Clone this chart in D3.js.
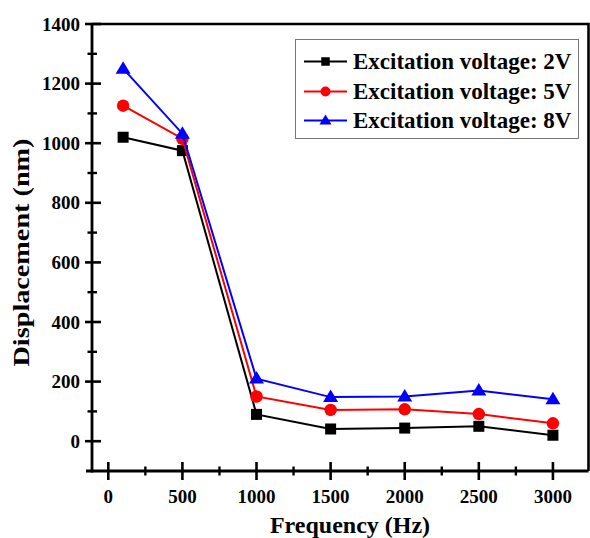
<!DOCTYPE html>
<html>
<head>
<meta charset="utf-8">
<script src="https://cdn.jsdelivr.net/npm/d3@7"></script>
<style>
  body { margin: 0; background: #fff; }
  svg { display: block; }
</style>
</head>
<body>
<svg></svg>
<script>
const width = 590;
const height = 538;
const margin = { left: 92, right: 1.5, top: 24, bottom: 67 };
const font = "'Liberation Serif', 'Times New Roman', Times, 'DejaVu Serif', serif";

// data
const frequencies = [100, 500, 1000, 1500, 2000, 2500, 3000];
const volt2 = [1020, 975, 90, 41, 44, 50, 20];
const volt5 = [1126, 1015, 150, 105, 107, 91, 60];
const volt8 = [1250, 1032, 210, 148, 150, 170, 141];
const seriesNames = ["Excitation voltage: 2V", "Excitation voltage: 5V", "Excitation voltage: 8V"];
const xTicks = [0, 500, 1000, 1500, 2000, 2500, 3000];
const yTicks = [0, 200, 400, 600, 800, 1000, 1200, 1400];

const series = [
  { name: seriesNames[0], values: volt2, color: "#000000", shape: "square" },
  { name: seriesNames[1], values: volt5, color: "#ff0000", shape: "circle" },
  { name: seriesNames[2], values: volt8, color: "#0000ff", shape: "triangle" },
];

const svg = d3.select("svg").attr("width", width).attr("height", height);

const x = d3.scaleLinear().domain([-110, 3240]).range([margin.left, width - margin.right]);
const y = d3.scaleLinear().domain([-100, 1400]).range([height - margin.bottom, margin.top]);

const x0 = margin.left, x1 = width - margin.right;
const y0 = height - margin.bottom, y1 = margin.top;

function label(sel, size) {
  return sel.attr("font-family", font)
    .attr("font-weight", "bold")
    .attr("font-size", size)
    .attr("fill", "#000");
}

// frame (top + right)
svg.append("path")
  .attr("d", `M${x0},${y1}H${x1}V${y0}`)
  .attr("fill", "none")
  .attr("stroke", "#000")
  .attr("stroke-width", 2.6);

// x axis
const xAxis = svg.append("g");
xAxis.append("line")
  .attr("x1", x0 - 6).attr("x2", x1)
  .attr("y1", y0).attr("y2", y0)
  .attr("stroke", "#000").attr("stroke-width", 2.8);
xAxis.selectAll(".major").data(xTicks).join("line")
  .attr("x1", d => x(d)).attr("x2", d => x(d))
  .attr("y1", y0 - 9).attr("y2", y0 + 9)
  .attr("stroke", "#000").attr("stroke-width", 2.6);
xAxis.selectAll(".minor").data(d3.range(250, 3250, 500)).join("line")
  .attr("x1", d => x(d)).attr("x2", d => x(d))
  .attr("y1", y0 - 4.5).attr("y2", y0 + 4.5)
  .attr("stroke", "#000").attr("stroke-width", 2.4);
xAxis.selectAll("text").data(xTicks).join("text")
  .attr("x", d => x(d))
  .attr("y", 503)
  .attr("text-anchor", "middle")
  .call(label, 19)
  .text(d => d);

// y axis
const yAxis = svg.append("g");
yAxis.append("line")
  .attr("x1", x0).attr("x2", x0)
  .attr("y1", y1).attr("y2", y0 + 1.4)
  .attr("stroke", "#000").attr("stroke-width", 2.8);
yAxis.selectAll(".major").data(yTicks).join("line")
  .attr("x1", x0 - 7).attr("x2", x0 + 9)
  .attr("y1", d => y(d)).attr("y2", d => y(d))
  .attr("stroke", "#000").attr("stroke-width", 2.6);
yAxis.selectAll(".minor").data(d3.range(100, 1400, 200)).join("line")
  .attr("x1", x0 - 4.5).attr("x2", x0 + 5)
  .attr("y1", d => y(d)).attr("y2", d => y(d))
  .attr("stroke", "#000").attr("stroke-width", 2.4);
yAxis.selectAll("text").data(yTicks).join("text")
  .attr("x", 80)
  .attr("y", d => y(d) + 6.5)
  .attr("text-anchor", "end")
  .call(label, 19)
  .text(d => d);

// axis titles
svg.append("text")
  .attr("x", 350)
  .attr("y", 533)
  .attr("text-anchor", "middle")
  .call(label, 24)
  .text("Frequency (Hz)");
svg.append("text")
  .attr("transform", `translate(29,252.5) rotate(-90)`)
  .attr("text-anchor", "middle")
  .attr("textLength", 228)
  .attr("lengthAdjust", "spacingAndGlyphs")
  .call(label, 24)
  .text("Displacement (nm)");

// markers
function marker(g, shape, color, size) {
  if (shape === "square") {
    g.append("rect")
      .attr("x", -size / 2).attr("y", -size / 2)
      .attr("width", size).attr("height", size)
      .attr("fill", color);
  } else if (shape === "circle") {
    g.append("circle").attr("r", size / 2).attr("fill", color);
  } else {
    const w = size * 1.2, h = size;
    g.append("path")
      .attr("d", `M0,${-h * 0.6}L${w / 2},${h * 0.4}L${-w / 2},${h * 0.4}Z`)
      .attr("fill", color);
  }
}

const line = d3.line()
  .x((d, i) => x(frequencies[i]))
  .y(d => y(d));

const markerSize = { square: 11, circle: 12.5, triangle: 12.5 };

series.forEach(s => {
  svg.append("path")
    .attr("d", line(s.values))
    .attr("fill", "none")
    .attr("stroke", s.color)
    .attr("stroke-width", 2);
  s.values.forEach((v, i) => {
    const g = svg.append("g").attr("transform", `translate(${x(frequencies[i])},${y(v)})`);
    marker(g, s.shape, s.color, markerSize[s.shape]);
  });
});

// legend
const legend = svg.append("g");
legend.append("rect")
  .attr("x", 295.5).attr("y", 39.5)
  .attr("width", 283).attr("height", 99)
  .attr("fill", "#fff")
  .attr("stroke", "#777")
  .attr("stroke-width", 1);
const rowY = [61.5, 91.5, 120.5];
series.forEach((s, i) => {
  const row = legend.append("g").attr("transform", `translate(0,${rowY[i]})`);
  row.append("line")
    .attr("x1", 304).attr("x2", 347)
    .attr("stroke", s.color).attr("stroke-width", 2);
  const g = row.append("g").attr("transform", "translate(325.5,0)");
  marker(g, s.shape, s.color, s.shape === "square" ? 8.5 : 10);
  row.append("text")
    .attr("x", 353)
    .attr("y", 7.5)
    .call(label, 23)
    .text(s.name);
});
</script>
</body>
</html>
